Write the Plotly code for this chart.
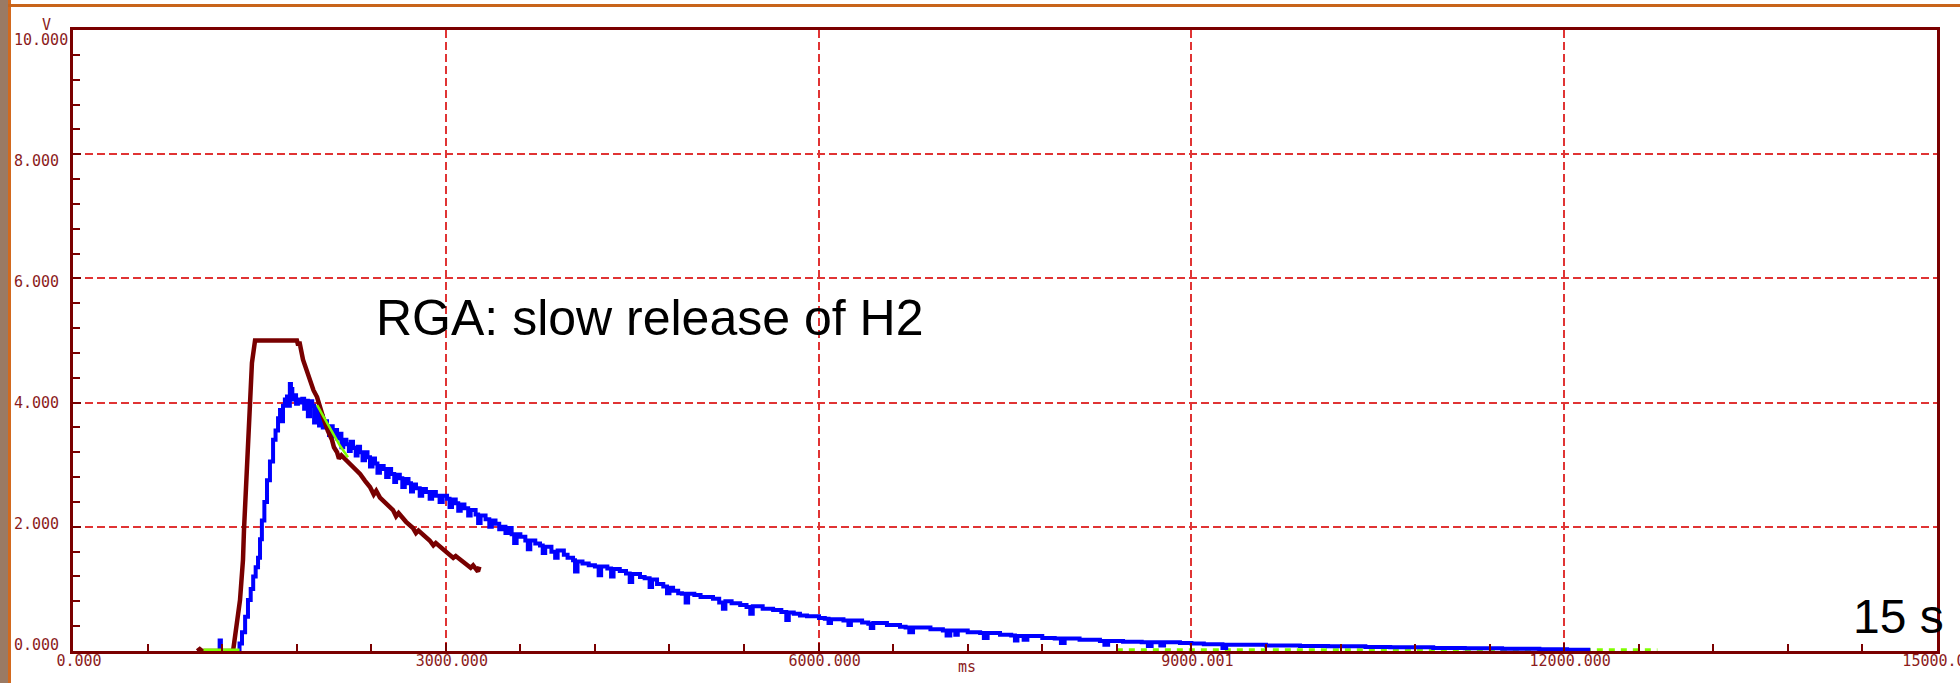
import plotly.graph_objects as go

# ---- data -------------------------------------------------------------
x_tickvals = [0, 3000, 6000, 9000, 12000, 15000]
x_ticktext = ["0.000", "3000.000", "6000.000", "9000.001", "12000.000", "15000.000"]
y_tickvals = [0, 2, 4, 6, 8, 10]
y_ticktext = ["0.000", "2.000", "4.000", "6.000", "8.000", "10.000"]

# pressure gauge channel (ms, V) - saturates at 5 V
brown_points = [
    (1000, 0.0), (1020, 0.03), (1040, 0.0), (1288, 0.0), (1344, 0.82), (1368, 1.47),
    (1376, 1.95), (1400, 3.03), (1424, 4.09), (1440, 4.64), (1465, 5.0), (1802, 5.0),
    (1812, 4.92), (1822, 4.98), (1851, 4.69), (1880, 4.5), (1907, 4.36), (1935, 4.2),
    (1964, 4.09), (1990, 3.9), (2012, 3.77), (2050, 3.55), (2084, 3.4), (2100, 3.28),
    (2125, 3.2), (2140, 3.1), (2160, 3.15), (2205, 3.06), (2250, 2.98), (2310, 2.85),
    (2350, 2.74), (2390, 2.64), (2420, 2.52), (2440, 2.58), (2470, 2.47), (2520, 2.37),
    (2575, 2.27), (2600, 2.17), (2620, 2.22), (2680, 2.08), (2736, 1.98), (2760, 1.9),
    (2780, 1.94), (2870, 1.78), (2900, 1.7), (2920, 1.74), (3010, 1.59), (3060, 1.5),
    (3080, 1.53), (3150, 1.42), (3200, 1.34), (3220, 1.38), (3259, 1.28), (3270, 1.36),
]

# RGA channel (ms, V)
blue_points = [
    (1000, 0.0), (1170, 0.0), (1180, 0.17), (1190, 0.0), (1320, 0.0),
    (1340, 0.12), (1360, 0.3), (1385, 0.55), (1408, 0.82), (1430, 1.0), (1450, 1.2),
    (1470, 1.35), (1489, 1.5), (1505, 1.8), (1520, 2.1), (1540, 2.4), (1561, 2.75),
    (1585, 3.05), (1610, 3.4), (1630, 3.55), (1650, 3.75), (1666, 3.88), (1680, 3.7),
    (1690, 3.95), (1705, 4.05), (1722, 4.1), (1735, 3.95), (1745, 4.3), (1754, 4.22),
    (1765, 4.05), (1780, 4.12), (1795, 3.98), (1810, 4.05), (1827, 4.0), (1845, 4.06),
    (1860, 3.9), (1875, 4.03), (1890, 3.78), (1907, 4.02), (1925, 3.95), (1940, 3.68),
    (1950, 3.92), (1964, 3.85), (1980, 3.63), (1995, 3.78), (2010, 3.6), (2030, 3.7),
    (2044, 3.6), (2060, 3.48), (2075, 3.62), (2090, 3.46), (2110, 3.56), (2125, 3.42),
    (2145, 3.5), (2160, 3.28), (2175, 3.4), (2200, 3.33), (2220, 3.22), (2235, 3.37),
    (2253, 3.27), (2275, 3.15), (2290, 3.29), (2310, 3.2), (2330, 3.07), (2350, 3.2),
    (2370, 3.12), (2390, 2.97), (2410, 3.1), (2430, 3.02), (2450, 2.87), (2470, 2.98),
    (2500, 2.93), (2520, 2.8), (2540, 2.93), (2560, 2.85), (2585, 2.72), (2600, 2.84),
    (2630, 2.78), (2650, 2.64), (2670, 2.77), (2700, 2.7), (2720, 2.57), (2736, 2.68),
    (2760, 2.62), (2790, 2.5), (2810, 2.61), (2840, 2.56), (2870, 2.45), (2890, 2.56),
    (2920, 2.5), (2950, 2.4), (2975, 2.5), (3010, 2.45), (3030, 2.32), (3050, 2.44),
    (3080, 2.38), (3100, 2.26), (3120, 2.36), (3150, 2.3), (3180, 2.18), (3200, 2.27),
    (3240, 2.2), (3260, 2.06), (3280, 2.18), (3320, 2.12), (3350, 2.0), (3370, 2.1),
    (3400, 2.05), (3430, 1.96), (3460, 2.0), (3480, 1.9), (3500, 1.98), (3530, 1.88),
    (3550, 1.74), (3570, 1.88), (3600, 1.84), (3640, 1.78), (3660, 1.64), (3680, 1.78),
    (3720, 1.73), (3758, 1.7), (3780, 1.58), (3800, 1.68), (3850, 1.6), (3880, 1.5),
    (3900, 1.62), (3950, 1.55), (3980, 1.5), (4024, 1.46), (4040, 1.28), (4060, 1.44),
    (4100, 1.41), (4150, 1.38), (4200, 1.36), (4230, 1.22), (4250, 1.36), (4300, 1.33),
    (4330, 1.2), (4350, 1.32), (4400, 1.29), (4450, 1.25), (4480, 1.11), (4500, 1.24),
    (4563, 1.19), (4600, 1.17), (4640, 1.03), (4660, 1.15), (4700, 1.08), (4750, 1.04),
    (4780, 0.93), (4800, 1.02), (4829, 0.97), (4870, 0.93), (4900, 0.92), (4930, 0.78),
    (4950, 0.92), (5000, 0.9), (5050, 0.87), (5103, 0.87), (5150, 0.84), (5200, 0.78),
    (5230, 0.68), (5250, 0.8), (5300, 0.77), (5369, 0.74), (5420, 0.71), (5450, 0.6),
    (5470, 0.72), (5550, 0.68), (5634, 0.66), (5700, 0.63), (5740, 0.5), (5760, 0.62),
    (5800, 0.6), (5850, 0.57), (5907, 0.56), (6003, 0.53), (6050, 0.52), (6080, 0.45),
    (6100, 0.51), (6200, 0.49), (6240, 0.42), (6260, 0.49), (6350, 0.46), (6400, 0.44),
    (6420, 0.37), (6440, 0.45), (6550, 0.42), (6655, 0.39), (6700, 0.38), (6730, 0.3),
    (6760, 0.38), (6900, 0.35), (7000, 0.33), (7030, 0.25), (7060, 0.33), (7100, 0.26),
    (7120, 0.33), (7200, 0.3), (7300, 0.29), (7330, 0.21), (7360, 0.29), (7460, 0.26),
    (7550, 0.25), (7580, 0.17), (7600, 0.24), (7650, 0.18), (7680, 0.24), (7800, 0.21),
    (7900, 0.2), (7950, 0.13), (7980, 0.2), (8100, 0.18), (8264, 0.16), (8300, 0.1),
    (8330, 0.16), (8450, 0.15), (8600, 0.14), (8650, 0.08), (8680, 0.14), (8750, 0.09),
    (8780, 0.14), (8908, 0.13), (9000, 0.12), (9100, 0.11), (9200, 0.11), (9250, 0.05),
    (9280, 0.1), (9400, 0.1), (9600, 0.09), (9874, 0.08), (10100, 0.075), (10400, 0.065),
    (10600, 0.06), (10946, 0.05), (11200, 0.045), (11500, 0.035), (11800, 0.03),
    (12023, 0.02), (12210, 0.02),
]

# third channel, mostly hidden behind the RGA trace
green_peak_points = [(1050, 0.02), (1340, 0.02), (None, None),
                     (1964, 3.96), (2030, 3.72), (2090, 3.5), (2150, 3.3), (2213, 3.12)]
green_tail_points = [(8400, 0.02), (12750, 0.02)]

# ---- figure -------------------------------------------------------------
W, H = 1960, 683
L, R, T, B = 73, 23, 30, 32
PW, PH = W - L - R, H - T - B

def px_x(px):
    return (px - L) / PW

def px_y(py):
    return (H - B - py) / PH

def split(points):
    return [p[0] for p in points], [p[1] for p in points]

AXIS = "#7a0000"
LABEL = "#8b1c1c"
GRID = "#e03434"
MONO = "DejaVu Sans Mono"

fig = go.Figure()

gx, gy = split(green_tail_points)
fig.add_trace(go.Scatter(x=gx, y=gy, mode="lines",
                         line=dict(color="#80ff00", width=3, dash="6px,6px")))
bx, by = split(blue_points)
fig.add_trace(go.Scatter(x=bx, y=by, mode="lines", line_shape="hv",
                         line=dict(color="#0000ff", width=4)))
rx, ry = split(brown_points)
fig.add_trace(go.Scatter(x=rx, y=ry, mode="lines",
                         line=dict(color="#780000", width=4.5)))
gx, gy = split(green_peak_points)
fig.add_trace(go.Scatter(x=gx, y=gy, mode="lines", connectgaps=False,
                         line=dict(color="#80ff00", width=2.5)))

tickfont = dict(family=MONO, size=15, color=LABEL)

fig.update_layout(
    width=W, height=H, showlegend=False,
    margin=dict(l=L, r=R, t=T, b=B, autoexpand=False),
    paper_bgcolor="white", plot_bgcolor="white",
    xaxis=dict(
        range=[0, 15000], tickmode="array", tickvals=x_tickvals, ticktext=x_ticktext,
        showline=True, linecolor=AXIS, linewidth=3, mirror=True,
        ticks="inside", ticklen=8, tickwidth=1.5, tickcolor=AXIS,
        minor=dict(tickmode="linear", tick0=0, dtick=600, ticks="inside",
                   ticklen=7, tickwidth=1.5, tickcolor=AXIS, showgrid=False),
        showgrid=True, gridcolor=GRID, gridwidth=1.5, griddash="8px,4px",
        tickfont=tickfont, zeroline=False, fixedrange=True,
        ticklabelshift=6, ticklabelstandoff=-6, ticklabeloverflow="allow",
    ),
    yaxis=dict(
        range=[0, 10], tickmode="array", tickvals=y_tickvals,
        showticklabels=False,
        showline=True, linecolor=AXIS, linewidth=3, mirror=True,
        ticks="inside", ticklen=8, tickwidth=1.5, tickcolor=AXIS,
        minor=dict(tickmode="linear", tick0=0, dtick=0.4, ticks="inside",
                   ticklen=7, tickwidth=1.5, tickcolor=AXIS, showgrid=False),
        showgrid=True, gridcolor=GRID, gridwidth=1.5, griddash="8px,4px",
        zeroline=False, fixedrange=True,
    ),
    xaxis2=dict(
        overlaying="x", side="top", anchor="y", range=[0, 15000],
        tickmode="linear", tick0=0, dtick=600, ticks="inside", ticklen=7,
        tickwidth=1.5, tickcolor="#e02020", showticklabels=False,
        showgrid=False, zeroline=False, showline=False,
    ),
    yaxis2=dict(
        overlaying="y", side="right", anchor="x", range=[0, 10],
        tickmode="linear", tick0=0, dtick=0.4, ticks="inside", ticklen=7,
        tickwidth=1.5, tickcolor="#a83030", showticklabels=False,
        showgrid=False, zeroline=False, showline=False,
    ),
)

# y tick labels: left-aligned column, spread a little so the end labels
# stay inside the frame height
for v, txt in zip(y_tickvals, y_ticktext):
    fig.add_annotation(text=txt, xref="paper", yref="y", x=px_x(12), y=v,
                       xanchor="left", yanchor="middle", showarrow=False,
                       yshift=-10 + 16 * (10 - v) / 10, font=tickfont)

# window frame: brown strip and orange borders
fig.add_shape(type="rect", xref="paper", yref="paper",
              x0=px_x(0), x1=px_x(8), y0=px_y(H), y1=px_y(0),
              fillcolor="#9a7a64", line_width=0, layer="above")
fig.add_shape(type="rect", xref="paper", yref="paper",
              x0=px_x(8), x1=px_x(11), y0=px_y(H), y1=px_y(0),
              fillcolor="#d2691e", line_width=0, layer="above")
fig.add_shape(type="rect", xref="paper", yref="paper",
              x0=px_x(8), x1=px_x(W), y0=px_y(7), y1=px_y(4),
              fillcolor="#c8641a", line_width=0, layer="above")

fig.add_annotation(text="V", xref="paper", yref="paper", x=px_x(40), y=px_y(14),
                   showarrow=False, font=tickfont)
fig.add_annotation(text="ms", xref="paper", yref="paper", x=px_x(967), y=px_y(678),
                   showarrow=False, font=tickfont)
fig.add_annotation(text="RGA: slow release of H2", xref="paper", yref="paper",
                   x=px_x(374), y=px_y(318), xanchor="left", yanchor="middle",
                   showarrow=False, font=dict(family="Liberation Sans", size=50, color="black"))
fig.add_annotation(text="15 s", xref="paper", yref="paper",
                   x=px_x(1851), y=px_y(616), xanchor="left", yanchor="middle",
                   showarrow=False, font=dict(family="Liberation Sans", size=48, color="black"))

fig.write_html("out.html", config={"displayModeBar": False})
